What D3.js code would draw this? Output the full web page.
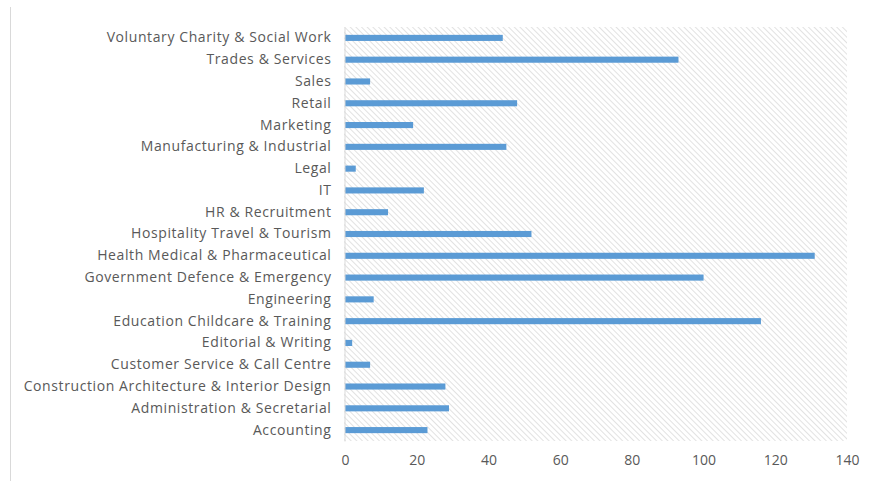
<!DOCTYPE html>
<html>
<head>
<meta charset="utf-8">
<script src="https://cdn.jsdelivr.net/npm/d3@7"></script>
<style>
  body { margin: 0; background: #fff; }
  svg { display: block; }
  svg text { font-family: "Open Sans", "Noto Sans", sans-serif; }
</style>
</head>
<body>
<svg id="canvas"></svg>
<script>
let categories = [
    'Voluntary Charity & Social Work',
    'Trades & Services',
    'Sales',
    'Retail',
    'Marketing',
    'Manufacturing & Industrial',
    'Legal',
    'IT',
    'HR & Recruitment',
    'Hospitality Travel & Tourism',
    'Health Medical & Pharmaceutical',
    'Government Defence & Emergency',
    'Engineering',
    'Education Childcare & Training',
    'Editorial & Writing',
    'Customer Service & Call Centre',
    'Construction Architecture & Interior Design',
    'Administration & Secretarial',
    'Accounting'
]
let values = [44, 93, 7, 48, 19, 45, 3, 22, 12, 52, 131, 100, 8, 116, 2, 7, 28, 29, 23]
let xTicks = [0, 20, 40, 60, 80, 100, 120, 140]

let width = 874
let height = 481
let plotLeft = 345
let plotRight = 847
let plotTop = 27
let plotBottom = 441

let canvas = d3.select('#canvas')
    .attr('width', width)
    .attr('height', height)

let xScale = d3.scaleLinear()
    .domain([0, 140])
    .range([plotLeft, plotRight])
let yScale = d3.scaleBand()
    .domain(categories)
    .range([plotTop, plotBottom])
    .paddingInner(0.72)
    .paddingOuter(0.36)

// hatch pattern for plot area
let defs = canvas.append('defs')
let pat = defs.append('pattern')
    .attr('id', 'hatch')
    .attr('patternUnits', 'userSpaceOnUse')
    .attr('width', 4)
    .attr('height', 4)
    .attr('patternTransform', 'rotate(-45)')
pat.append('rect').attr('width', 4).attr('height', 4).attr('fill', '#fff')
pat.append('line')
    .attr('x1', 0).attr('y1', 0).attr('x2', 0).attr('y2', 4)
    .attr('stroke', '#d9d9d9')
    .attr('stroke-width', 1.5)

// outer frame left line
canvas.append('line')
    .attr('x1', 10.5).attr('x2', 10.5)
    .attr('y1', 7).attr('y2', height)
    .attr('stroke', '#d9d9d9')

canvas.append('rect')
    .attr('x', plotLeft - 1)
    .attr('y', plotTop)
    .attr('width', plotRight - plotLeft + 1)
    .attr('height', plotBottom - plotTop)
    .attr('fill', 'url(#hatch)')

canvas.selectAll('.bar')
    .data(values)
    .enter()
    .append('rect')
    .attr('class', 'bar')
    .attr('x', xScale(0))
    .attr('y', (d, i) => yScale(categories[i]))
    .attr('width', (d) => xScale(d) - xScale(0))
    .attr('height', yScale.bandwidth())
    .attr('fill', '#5b9bd5')

let yAxis = d3.axisLeft(yScale).tickSize(0).tickPadding(13)
let gy = canvas.append('g')
    .attr('transform', 'translate(' + (plotLeft - 0.5) + ',0)')
    .call(yAxis)
gy.attr('font-family', null).attr('font-size', null)
gy.select('.domain').attr('stroke', '#d9d9d9')
gy.selectAll('text')
    .attr('fill', '#595959')
    .style('font-size', '14px')
    .style('letter-spacing', '0.6px')

let xAxis = d3.axisBottom(xScale).tickValues(xTicks).tickSize(0).tickPadding(14)
let gx = canvas.append('g')
    .attr('transform', 'translate(0,' + plotBottom + ')')
    .call(xAxis)
gx.attr('font-family', null).attr('font-size', null)
gx.select('.domain').remove()
gx.selectAll('text')
    .attr('fill', '#595959')
    .style('font-size', '14px')
</script>
</body>
</html>
